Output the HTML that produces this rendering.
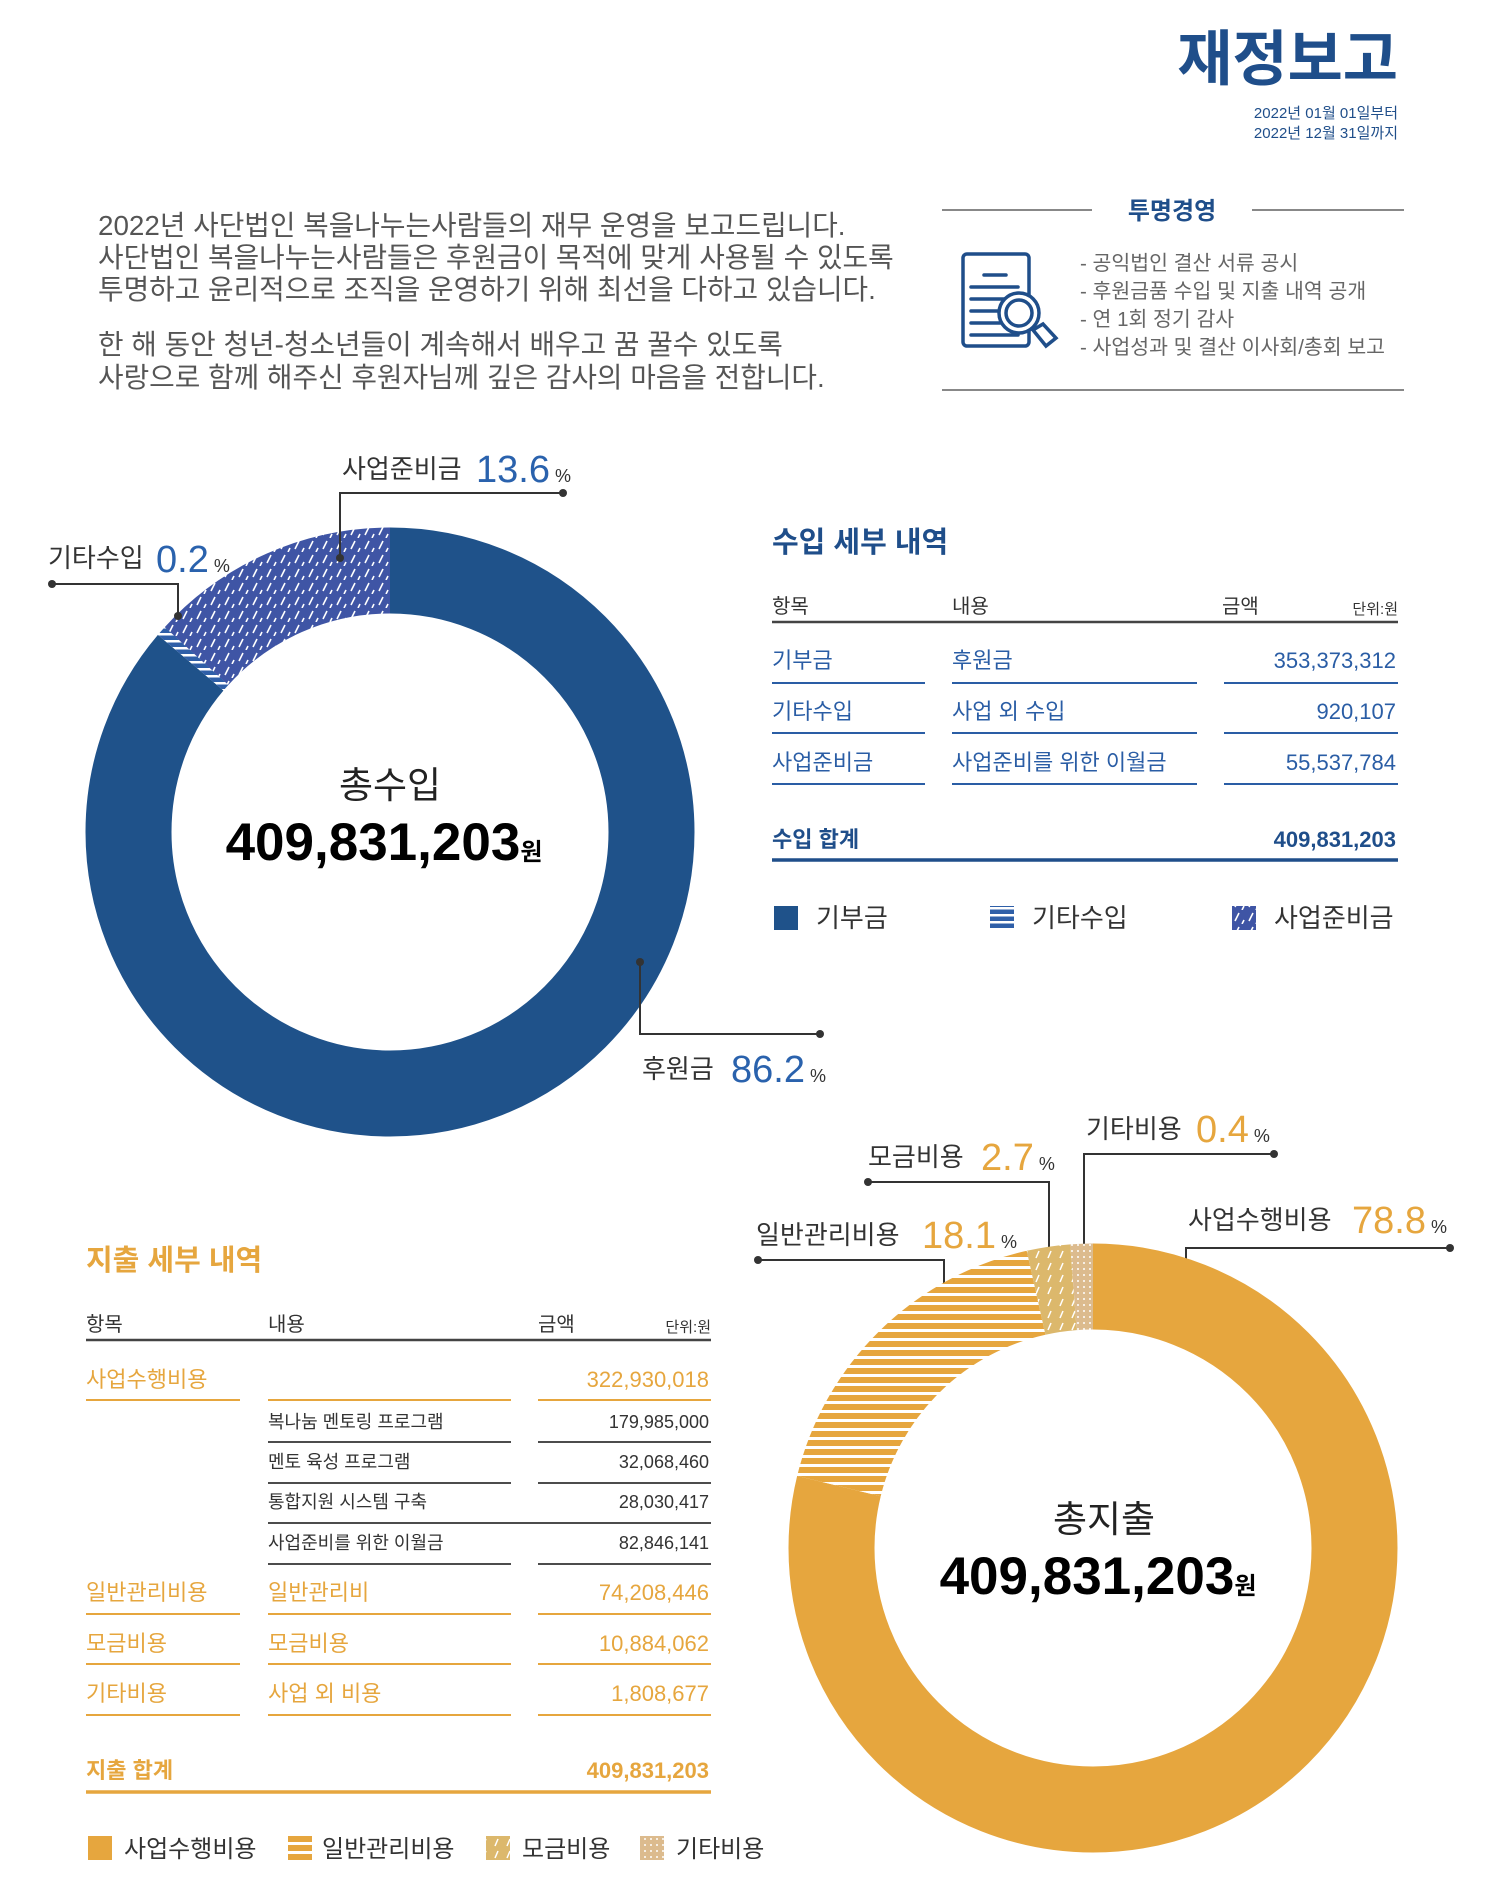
<!DOCTYPE html>
<html><head><meta charset="utf-8"><style>
html,body{margin:0;padding:0;background:#fff;}
svg{display:block;font-family:"Liberation Sans","Noto Sans CJK KR",sans-serif;}
</style></head><body>
<svg width="1499" height="1877" viewBox="0 0 1499 1877" xmlns="http://www.w3.org/2000/svg">
<defs>
<pattern id="pRes" patternUnits="userSpaceOnUse" width="14" height="14">
<rect width="14" height="14" fill="#3f55a5"/>
<path d="M3 11 L7 3 M10 14 L12 10" stroke="#fff" stroke-width="1.6"/>
</pattern>
<pattern id="pEtc" patternUnits="userSpaceOnUse" width="10" height="7">
<rect width="10" height="7" fill="#2f5fa8"/>
<rect y="4" width="10" height="2.5" fill="#fff"/>
</pattern>
<pattern id="pGen" patternUnits="userSpaceOnUse" width="10" height="9">
<rect width="10" height="9" fill="#e6a63e"/>
<rect y="6" width="10" height="3" fill="#fff"/>
</pattern>
<pattern id="pFund" patternUnits="userSpaceOnUse" width="12" height="12">
<rect width="12" height="12" fill="#dcb86c"/>
<path d="M3 10 L6 3" stroke="#fff" stroke-width="1.5"/>
</pattern>
<pattern id="pOth" patternUnits="userSpaceOnUse" width="6" height="6">
<rect width="6" height="6" fill="#dcbb8e"/>
<circle cx="3" cy="3" r="1" fill="#fff"/>
</pattern>
<pattern id="dRes" href="#pRes" patternTransform="rotate(90)"/>
<pattern id="dEtc" href="#pEtc" patternTransform="rotate(90)"/>
<pattern id="dGen" href="#pGen" patternTransform="rotate(90)"/>
<pattern id="dFund" href="#pFund" patternTransform="rotate(90)"/>
<pattern id="dOth" href="#pOth" patternTransform="rotate(90)"/>
</defs>

<!-- Header -->
<text x="1398" y="80" text-anchor="end" font-size="60" font-weight="bold" fill="#1f4e8a">재정보고</text>
<text x="1398" y="118" text-anchor="end" font-size="15" fill="#1f4e8a">2022년 01월 01일부터</text>
<text x="1398" y="138" text-anchor="end" font-size="15" fill="#1f4e8a">2022년 12월 31일까지</text>

<!-- Intro -->
<g font-size="27.8" fill="#555">
<text x="98" y="235">2022년 사단법인 복을나누는사람들의 재무 운영을 보고드립니다.</text>
<text x="98" y="267">사단법인 복을나누는사람들은 후원금이 목적에 맞게 사용될 수 있도록</text>
<text x="98" y="299">투명하고 윤리적으로 조직을 운영하기 위해 최선을 다하고 있습니다.</text>
<text x="98" y="354">한 해 동안 청년-청소년들이 계속해서 배우고 꿈 꿀수 있도록</text>
<text x="98" y="387">사랑으로 함께 해주신 후원자님께 깊은 감사의 마음을 전합니다.</text>
</g>

<!-- Transparency box -->
<line x1="942" y1="210" x2="1092" y2="210" stroke="#888" stroke-width="2"/>
<line x1="1252" y1="210" x2="1404" y2="210" stroke="#888" stroke-width="2"/>
<text x="1172" y="219" text-anchor="middle" font-size="24" font-weight="bold" fill="#1f4e8a">투명경영</text>
<line x1="942" y1="390" x2="1404" y2="390" stroke="#888" stroke-width="2"/>
<g stroke="#1f4e8a" stroke-width="3.5" fill="none" stroke-linecap="round">
<rect x="963" y="254" width="66" height="92" rx="4" fill="#fff"/>
<line x1="984" y1="275" x2="1006" y2="275"/>
<line x1="971" y1="287" x2="1018" y2="287"/>
<line x1="971" y1="299" x2="1005" y2="299"/>
<line x1="971" y1="311" x2="1000" y2="311"/>
<line x1="971" y1="323" x2="1000" y2="323"/>
<line x1="971" y1="335" x2="1018" y2="335"/>
<circle cx="1019" cy="313" r="20" fill="#fff"/>
<circle cx="1019" cy="313" r="13"/>
<path d="M1033 330 L1046 346 L1056 338 L1043 324 Z" fill="#fff"/>
</g>
<g font-size="20.5" fill="#666">
<text x="1080" y="270">- 공익법인 결산 서류 공시</text>
<text x="1080" y="298">- 후원금품 수입 및 지출 내역 공개</text>
<text x="1080" y="326">- 연 1회 정기 감사</text>
<text x="1080" y="354">- 사업성과 및 결산 이사회/총회 보고</text>
</g>

<!-- Income donut -->
<g transform="translate(390,832) rotate(-90)" fill="none" stroke-width="86">
<circle r="261.5" stroke="#1f528a" stroke-dasharray="1416.3 1643" stroke-dashoffset="0"/>
<circle r="261.5" stroke="url(#dEtc)" stroke-dasharray="9 1643" stroke-dashoffset="-1416.3"/>
<circle r="261.5" stroke="url(#dRes)" stroke-dasharray="217.8 1643" stroke-dashoffset="-1425.2"/>
</g>
<text x="390" y="798" text-anchor="middle" font-size="37" fill="#222">총수입</text>
<text x="384" y="860" text-anchor="middle" font-size="53" font-weight="bold" fill="#000">409,831,203<tspan font-size="24">원</tspan></text>

<!-- callouts -->
<g stroke="#333" stroke-width="2" fill="none">
<polyline points="563,493 340,493 340,558"/>
<polyline points="52,584 178,584 178,616"/>
<polyline points="640,962 640,1034 820,1034"/>
<polyline points="1450,1248 1186,1248 1186,1294"/>
<polyline points="758,1260 944,1260 944,1325"/>
<polyline points="868,1182 1049,1182 1049,1277"/>
<polyline points="1274,1154 1084,1154 1084,1272"/>
</g>
<g fill="#333">
<circle cx="563" cy="493" r="4"/><circle cx="340" cy="558" r="4"/>
<circle cx="52" cy="584" r="4"/><circle cx="178" cy="616" r="4"/>
<circle cx="640" cy="962" r="4"/><circle cx="820" cy="1034" r="4"/>
<circle cx="1450" cy="1248" r="4"/><circle cx="1186" cy="1294" r="4"/>
<circle cx="758" cy="1260" r="4"/><circle cx="944" cy="1325" r="4"/>
<circle cx="868" cy="1182" r="4"/><circle cx="1049" cy="1277" r="4"/>
<circle cx="1274" cy="1154" r="4"/><circle cx="1084" cy="1272" r="4"/>
</g>
<g font-size="26" fill="#333">
<text x="342" y="478">사업준비금</text>
<text x="48" y="567">기타수입</text>
<text x="642" y="1078">후원금</text>
<text x="1188" y="1229">사업수행비용</text>
<text x="756" y="1244">일반관리비용</text>
<text x="868" y="1166">모금비용</text>
<text x="1086" y="1138">기타비용</text>
</g>
<g font-size="38" fill="#2a62ad">
<text x="476" y="482">13.6<tspan font-size="18" fill="#333"> %</tspan></text>
<text x="156" y="572">0.2<tspan font-size="18" fill="#333"> %</tspan></text>
<text x="731" y="1082">86.2<tspan font-size="18" fill="#333"> %</tspan></text>
</g>
<g font-size="38" fill="#e6a63e">
<text x="1352" y="1233">78.8<tspan font-size="18" fill="#333"> %</tspan></text>
<text x="922" y="1248">18.1<tspan font-size="18" fill="#333"> %</tspan></text>
<text x="981" y="1170">2.7<tspan font-size="18" fill="#333"> %</tspan></text>
<text x="1196" y="1142">0.4<tspan font-size="18" fill="#333"> %</tspan></text>
</g>

<!-- Income table -->
<text x="772" y="552" font-size="29" font-weight="bold" fill="#1f4e8a">수입 세부 내역</text>
<g font-size="20" fill="#333">
<text x="772" y="613">항목</text><text x="952" y="613">내용</text><text x="1222" y="613">금액</text>
<text x="1398" y="614" text-anchor="end" font-size="15">단위:원</text>
</g>
<line x1="772" y1="622" x2="1398" y2="622" stroke="#444" stroke-width="2.5"/>
<g font-size="22" fill="#2a5da5">
<text x="772" y="668">기부금</text><text x="952" y="668">후원금</text><text x="1396" y="668" text-anchor="end">353,373,312</text>
<text x="772" y="719">기타수입</text><text x="952" y="719">사업 외 수입</text><text x="1396" y="719" text-anchor="end">920,107</text>
<text x="772" y="770">사업준비금</text><text x="952" y="770">사업준비를 위한 이월금</text><text x="1396" y="770" text-anchor="end">55,537,784</text>
</g>
<g stroke="#2a5da5" stroke-width="2">
<line x1="772" y1="683" x2="925" y2="683"/><line x1="952" y1="683" x2="1197" y2="683"/><line x1="1224" y1="683" x2="1398" y2="683"/>
<line x1="772" y1="733" x2="925" y2="733"/><line x1="952" y1="733" x2="1197" y2="733"/><line x1="1224" y1="733" x2="1398" y2="733"/>
<line x1="772" y1="784" x2="925" y2="784"/><line x1="952" y1="784" x2="1197" y2="784"/><line x1="1224" y1="784" x2="1398" y2="784"/>
</g>
<text x="772" y="847" font-size="22" font-weight="bold" fill="#1f4e8a">수입 합계</text>
<text x="1396" y="847" text-anchor="end" font-size="22" font-weight="bold" fill="#1f4e8a">409,831,203</text>
<line x1="772" y1="860" x2="1398" y2="860" stroke="#1f4e8a" stroke-width="3.5"/>
<rect x="774" y="906" width="24" height="24" fill="#1f528a"/>
<rect x="990" y="906" width="24" height="24" fill="url(#pEtc)"/>
<rect x="1232" y="906" width="24" height="24" fill="url(#pRes)"/>
<g font-size="26" fill="#333">
<text x="816" y="927">기부금</text><text x="1032" y="927">기타수입</text><text x="1274" y="927">사업준비금</text>
</g>

<!-- Expense donut -->
<g transform="translate(1093,1548) rotate(-90)" fill="none" stroke-width="86">
<circle r="261.5" stroke="#e6a63e" stroke-dasharray="1294.7 1643" stroke-dashoffset="0"/>
<circle r="261.5" stroke="url(#dGen)" stroke-dasharray="290.8 1643" stroke-dashoffset="-1294.7"/>
<circle r="261.5" stroke="url(#dFund)" stroke-dasharray="37.8 1643" stroke-dashoffset="-1585.5"/>
<circle r="261.5" stroke="url(#dOth)" stroke-dasharray="19.7 1643" stroke-dashoffset="-1623.3"/>
</g>
<text x="1104" y="1532" text-anchor="middle" font-size="37" fill="#222">총지출</text>
<text x="1098" y="1594" text-anchor="middle" font-size="53" font-weight="bold" fill="#000">409,831,203<tspan font-size="24">원</tspan></text>

<!-- Expense table -->
<text x="86" y="1270" font-size="29" font-weight="bold" fill="#e6a63e">지출 세부 내역</text>
<g font-size="20" fill="#333">
<text x="86" y="1331">항목</text><text x="268" y="1331">내용</text><text x="538" y="1331">금액</text>
<text x="711" y="1332" text-anchor="end" font-size="15">단위:원</text>
</g>
<line x1="86" y1="1340" x2="711" y2="1340" stroke="#444" stroke-width="2.5"/>
<g font-size="22" fill="#e6a63e">
<text x="86" y="1387">사업수행비용</text><text x="709" y="1387" text-anchor="end">322,930,018</text>
<text x="86" y="1600">일반관리비용</text><text x="268" y="1600">일반관리비</text><text x="709" y="1600" text-anchor="end">74,208,446</text>
<text x="86" y="1651">모금비용</text><text x="268" y="1651">모금비용</text><text x="709" y="1651" text-anchor="end">10,884,062</text>
<text x="86" y="1701">기타비용</text><text x="268" y="1701">사업 외 비용</text><text x="709" y="1701" text-anchor="end">1,808,677</text>
</g>
<g stroke="#e6a63e" stroke-width="2">
<line x1="86" y1="1400" x2="240" y2="1400"/><line x1="268" y1="1400" x2="511" y2="1400"/><line x1="538" y1="1400" x2="711" y2="1400"/>
<line x1="86" y1="1614" x2="240" y2="1614"/><line x1="268" y1="1614" x2="511" y2="1614"/><line x1="538" y1="1614" x2="711" y2="1614"/>
<line x1="86" y1="1664" x2="240" y2="1664"/><line x1="268" y1="1664" x2="511" y2="1664"/><line x1="538" y1="1664" x2="711" y2="1664"/>
<line x1="86" y1="1715" x2="240" y2="1715"/><line x1="268" y1="1715" x2="511" y2="1715"/><line x1="538" y1="1715" x2="711" y2="1715"/>
</g>
<g font-size="18" fill="#333">
<text x="268" y="1428">복나눔 멘토링 프로그램</text><text x="709" y="1428" text-anchor="end">179,985,000</text>
<text x="268" y="1468">멘토 육성 프로그램</text><text x="709" y="1468" text-anchor="end">32,068,460</text>
<text x="268" y="1508">통합지원 시스템 구축</text><text x="709" y="1508" text-anchor="end">28,030,417</text>
<text x="268" y="1549">사업준비를 위한 이월금</text><text x="709" y="1549" text-anchor="end">82,846,141</text>
</g>
<g stroke="#333" stroke-width="1.8">
<line x1="268" y1="1442" x2="511" y2="1442"/><line x1="538" y1="1442" x2="711" y2="1442"/>
<line x1="268" y1="1483" x2="511" y2="1483"/><line x1="538" y1="1483" x2="711" y2="1483"/>
<line x1="268" y1="1523" x2="711" y2="1523"/>
<line x1="268" y1="1564" x2="511" y2="1564"/><line x1="538" y1="1564" x2="711" y2="1564"/>
</g>
<text x="86" y="1778" font-size="22" font-weight="bold" fill="#e6a63e">지출 합계</text>
<text x="709" y="1778" text-anchor="end" font-size="22" font-weight="bold" fill="#e6a63e">409,831,203</text>
<line x1="86" y1="1792" x2="711" y2="1792" stroke="#e6a63e" stroke-width="3.5"/>
<rect x="88" y="1836" width="24" height="24" fill="#e6a63e"/>
<rect x="288" y="1836" width="24" height="24" fill="url(#pGen)"/>
<rect x="486" y="1836" width="24" height="24" fill="url(#pFund)"/>
<rect x="640" y="1836" width="24" height="24" fill="url(#pOth)"/>
<g font-size="24" fill="#333">
<text x="124" y="1857">사업수행비용</text><text x="322" y="1857">일반관리비용</text><text x="522" y="1857">모금비용</text><text x="676" y="1857">기타비용</text>
</g>
</svg>
</body></html>
